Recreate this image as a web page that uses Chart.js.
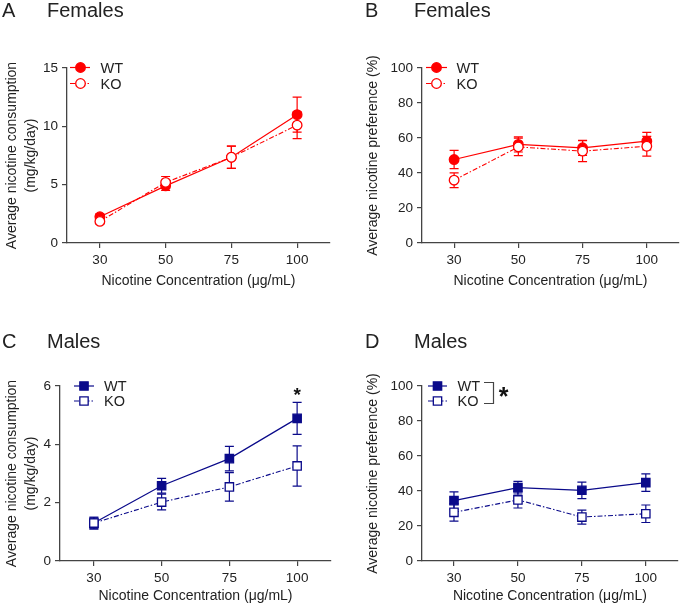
<!DOCTYPE html>
<html>
<head>
<meta charset="utf-8">
<script src="https://cdn.jsdelivr.net/npm/chart.js@4.4.1/dist/chart.umd.min.js"></script>
<style>
  body { margin: 0; background: #fff; }
  #fig { position: relative; width: 685px; height: 608px; font-family: 'Liberation Sans', Arial, sans-serif; color: #222; }
  .hd { position: absolute; font-size: 20px; line-height: 20px; z-index: 2; }
  canvas { position: absolute; }
</style>
</head>
<body>
<div id="fig">
  <div class="hd" style="left:2px;top:0px">A</div>
  <div class="hd" style="left:47px;top:0px">Females</div>
  <div class="hd" style="left:365px;top:0px">B</div>
  <div class="hd" style="left:414px;top:0px">Females</div>
  <div class="hd" style="left:2px;top:331px">C</div>
  <div class="hd" style="left:47px;top:331px">Males</div>
  <div class="hd" style="left:365px;top:331px">D</div>
  <div class="hd" style="left:414px;top:331px">Males</div>
  <canvas id="chartA" width="340" height="300" style="left:0;top:0"></canvas>
  <canvas id="chartB" width="345" height="300" style="left:340px;top:0"></canvas>
  <canvas id="chartC" width="340" height="308" style="left:0;top:300px"></canvas>
  <canvas id="chartD" width="345" height="308" style="left:340px;top:300px"></canvas>
</div>
<script>
// ===== DATA =====
const concentrations = ['30', '50', '75', '100'];
const seriesNames = ['WT', 'KO'];

const femConsWT = [2.25, 4.9, 7.35, 11.0];
const femConsWTErr = [0.25, 0.4, 0.95, 1.5];
const femConsKO = [1.85, 5.2, 7.35, 10.1];
const femConsKOErr = [0.2, 0.5, 0.95, 1.15];

const femPrefWT = [47.7, 56.3, 54.4, 58.2];
const femPrefWTErr = [5.2, 4.3, 4.3, 5.0];
const femPrefKO = [35.9, 54.9, 52.5, 55.3];
const femPrefKOErr = [4.2, 5.0, 6.0, 5.6];

const maleConsWT = [1.3, 2.58, 3.51, 4.89];
const maleConsWTErr = [0.2, 0.25, 0.42, 0.55];
const maleConsKO = [1.3, 2.02, 2.54, 3.26];
const maleConsKOErr = [0.2, 0.27, 0.49, 0.69];

const malePrefWT = [34.5, 41.9, 40.4, 44.8];
const malePrefWTErr = [5.0, 3.6, 4.7, 5.0];
const malePrefKO = [27.8, 34.9, 25.1, 27.0];
const malePrefKOErr = [5.0, 4.6, 4.0, 5.0];

const consTicksF = [0, 5, 10, 15];
const consTicksM = [0, 2, 4, 6];
const prefTicks = [0, 20, 40, 60, 80, 100];

const RED = '#ff0000';
const NAVY = '#0a0a8a';
const AXIS = '#444';
const TEXT = '#222';

Chart.defaults.font.family = "'Liberation Sans', Arial, sans-serif";
Chart.defaults.color = TEXT;

function drawMarker(ctx, style, x, y, r, color, filled) {
    ctx.save();
    ctx.lineWidth = 1.3;
    ctx.strokeStyle = color;
    ctx.fillStyle = filled ? color : '#fff';
    ctx.beginPath();
    if (style === 'rect') {
        const h = r * Math.SQRT1_2;
        ctx.rect(x - h, y - h, 2 * h, 2 * h);
    } else {
        ctx.arc(x, y, r, 0, Math.PI * 2);
    }
    ctx.fill();
    ctx.stroke();
    ctx.restore();
}

// error bars behind the markers
const errorBars = {
    id: 'errorBars',
    beforeDatasetsDraw(chart) {
        const ctx = chart.ctx;
        const y = chart.scales.y;
        chart.data.datasets.forEach((ds, i) => {
            const meta = chart.getDatasetMeta(i);
            ctx.save();
            ctx.strokeStyle = ds.borderColor;
            ctx.lineWidth = 1.2;
            meta.data.forEach((pt, j) => {
                const hi = y.getPixelForValue(ds.data[j] + ds.errors[j]);
                const lo = y.getPixelForValue(ds.data[j] - ds.errors[j]);
                ctx.beginPath();
                ctx.moveTo(pt.x, hi); ctx.lineTo(pt.x, lo);
                ctx.moveTo(pt.x - 4.5, hi); ctx.lineTo(pt.x + 4.5, hi);
                ctx.moveTo(pt.x - 4.5, lo); ctx.lineTo(pt.x + 4.5, lo);
                ctx.stroke();
            });
            ctx.restore();
        });
    }
};

// legend inside the plot plus significance marks
const insideLegend = {
    id: 'insideLegend',
    afterDraw(chart, args, o) {
        const ctx = chart.ctx;
        const L = o.legend;
        chart.data.datasets.forEach((ds, i) => {
            const y = L.rows[i];
            ctx.save();
            ctx.strokeStyle = ds.borderColor;
            ctx.lineWidth = 1.2;
            ctx.setLineDash(ds.borderDash || []);
            ctx.beginPath();
            ctx.moveTo(L.x0, y); ctx.lineTo(L.x1, y);
            ctx.stroke();
            ctx.restore();
            drawMarker(ctx, ds.pointStyle, L.mx, y, ds.pointRadius, ds.borderColor, i === 0);
            ctx.save();
            ctx.fillStyle = TEXT;
            ctx.font = "14.5px 'Liberation Sans', Arial, sans-serif";
            ctx.textBaseline = 'middle';
            ctx.fillText(ds.label, L.tx, y + 1);
            ctx.restore();
        });
        if (o.star === 'point') {
            const ds = chart.data.datasets[0];
            const k = ds.data.length - 1;
            const px = chart.getDatasetMeta(0).data[k].x;
            const py = chart.scales.y.getPixelForValue(ds.data[k] + ds.errors[k]);
            ctx.save();
            ctx.fillStyle = '#111';
            ctx.font = "bold 19px 'Liberation Sans', Arial, sans-serif";
            ctx.textAlign = 'center';
            ctx.fillText('*', px, py - 1);
            ctx.restore();
        }
        if (o.star === 'bracket') {
            const b = o.bracket;
            ctx.save();
            ctx.strokeStyle = AXIS;
            ctx.lineWidth = 1.2;
            ctx.beginPath();
            ctx.moveTo(b.x0, b.y0); ctx.lineTo(b.x1, b.y0);
            ctx.lineTo(b.x1, b.y1); ctx.lineTo(b.x0, b.y1);
            ctx.stroke();
            ctx.fillStyle = '#111';
            ctx.font = "bold 25px 'Liberation Sans', Arial, sans-serif";
            ctx.textAlign = 'center';
            ctx.fillText('*', b.sx, b.sy);
            ctx.restore();
        }
    }
};

function panel(id, p) {
    const el = document.getElementById(id);
    const W = el.width, H = el.height;
    const a = p.area;
    const marker = p.marker;
    new Chart(el, {
        type: 'line',
        data: {
            labels: concentrations,
            datasets: [{
                label: seriesNames[0],
                data: p.wt,
                errors: p.wtErr,
                borderColor: p.color,
                backgroundColor: p.color,
                pointBackgroundColor: p.color,
                pointBorderColor: p.color,
                pointStyle: marker,
                pointRadius: p.r,
                pointBorderWidth: 1.3,
                borderWidth: 1.2,
                order: 1
            }, {
                label: seriesNames[1],
                data: p.ko,
                errors: p.koErr,
                borderColor: p.color,
                backgroundColor: '#fff',
                pointBackgroundColor: '#fff',
                pointBorderColor: p.color,
                pointStyle: marker,
                pointRadius: p.r,
                pointBorderWidth: 1.3,
                borderWidth: 1.1,
                borderDash: [5, 2, 1.5, 2],
                order: 0
            }]
        },
        options: {
            responsive: false,
            animation: false,
            layout: { padding: { left: 0, top: a.t, right: W - a.r, bottom: 0 } },
            plugins: {
                legend: { display: false },
                tooltip: { enabled: false },
                insideLegend: { legend: p.legend, star: p.star, bracket: p.bracket }
            },
            scales: {
                x: {
                    offset: true,
                    afterFit: s => { s.height = H - a.b; },
                    grid: { drawOnChartArea: false, tickLength: 5, color: AXIS, lineWidth: 1.2 },
                    border: { color: AXIS, width: 1.3 },
                    ticks: { padding: 4, color: TEXT, font: { size: 13.5 } },
                    title: {
                        display: true, text: 'Nicotine Concentration (μg/mL)',
                        color: TEXT, font: { size: 14 }, padding: { top: 0, bottom: p.xtPad }
                    }
                },
                y: {
                    min: 0, max: p.ticks[p.ticks.length - 1],
                    afterFit: s => { s.width = a.l; },
                    afterBuildTicks: s => { s.ticks = p.ticks.map(v => ({ value: v })); },
                    grid: { drawOnChartArea: false, tickLength: 5, color: AXIS, lineWidth: 1.2 },
                    border: { color: AXIS, width: 1.3 },
                    ticks: { padding: 4, color: TEXT, font: { size: 13.5 } },
                    title: {
                        display: true, text: p.ytitle,
                        color: TEXT, font: { size: 14, lineHeight: 1.4 }, padding: { top: p.ytPad, bottom: 0 }
                    }
                }
            }
        },
        plugins: [errorBars, insideLegend]
    });
}

// ===== PANELS (local canvas coordinates) =====
panel('chartA', {
    wt: femConsWT, wtErr: femConsWTErr, ko: femConsKO, koErr: femConsKOErr,
    ticks: consTicksF, color: RED, marker: 'circle', r: 4.8,
    ytitle: ['Average nicotine consumption', '(mg/kg/day)'], ytPad: 2, xtPad: 10,
    area: { l: 67, t: 68, r: 330, b: 243 },
    legend: { x0: 70, x1: 90, mx: 80.5, tx: 100.5, rows: [67.5, 83.5] }
});

panel('chartB', {
    wt: femPrefWT, wtErr: femPrefWTErr, ko: femPrefKO, koErr: femPrefKOErr,
    ticks: prefTicks, color: RED, marker: 'circle', r: 4.8,
    ytitle: 'Average nicotine preference (%)', ytPad: 23, xtPad: 10,
    area: { l: 82, t: 68, r: 343, b: 243 },
    legend: { x0: 86, x1: 107, mx: 96.5, tx: 116.5, rows: [67.5, 83.5] }
});

panel('chartC', {
    wt: maleConsWT, wtErr: maleConsWTErr, ko: maleConsKO, koErr: maleConsKOErr,
    ticks: consTicksM, color: NAVY, marker: 'rect', r: 5.9,
    ytitle: ['Average nicotine consumption', '(mg/kg/day)'], ytPad: 2, xtPad: 3,
    area: { l: 60, t: 86, r: 331, b: 261 },
    legend: { x0: 74, x1: 94, mx: 84, tx: 104, rows: [86, 101] },
    star: 'point'
});

panel('chartD', {
    wt: malePrefWT, wtErr: malePrefWTErr, ko: malePrefKO, koErr: malePrefKOErr,
    ticks: prefTicks, color: NAVY, marker: 'rect', r: 5.9,
    ytitle: 'Average nicotine preference (%)', ytPad: 23, xtPad: 3,
    area: { l: 82, t: 86, r: 343, b: 261 },
    legend: { x0: 88, x1: 107, mx: 97.5, tx: 117.5, rows: [86, 101] },
    star: 'bracket',
    bracket: { x0: 144, x1: 153.5, y0: 82.5, y1: 103.5, sx: 163.5, sy: 105 }
});
</script>
</body>
</html>
